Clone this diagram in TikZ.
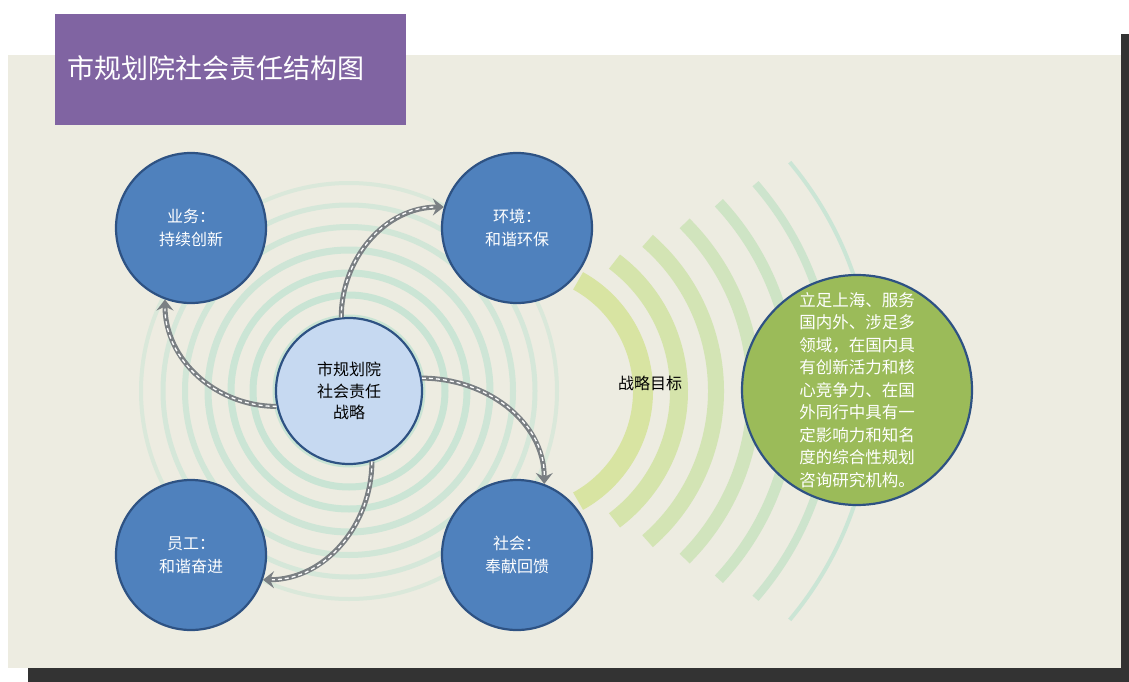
\documentclass[tikz,border=0pt]{standalone}
\usepackage{fontspec}
\newfontfamily\cjk{Noto Sans CJK SC}
\usepackage{xcolor}
\usetikzlibrary{arrows.meta,positioning,calc}
\definecolor{panelbg}{HTML}{EDECE1}
\definecolor{shadowgray}{HTML}{333333}
\definecolor{titlepurple}{HTML}{8064A2}
\definecolor{aimblue}{HTML}{4F81BD}
\definecolor{edgeblue}{HTML}{2E5283}
\definecolor{corelight}{HTML}{C6D9F1}
\definecolor{goalgreen}{HTML}{9BBB59}
\definecolor{ringteal}{HTML}{C3E3D2}
\definecolor{waveyellow}{HTML}{D3E294}
\definecolor{roadgray}{HTML}{7A7F83}
\tikzset{
  aim/.style={circle,draw=edgeblue,line width=2.2pt,fill=aimblue,minimum size=150pt,
    inner sep=0pt,text=white,align=center,font=\cjk\fontsize{16}{23}\selectfont},
  core/.style={aim,fill=corelight,text=black,minimum size=146pt,
    font=\cjk\fontsize{16}{21.5}\selectfont},
  goal/.style={aim,fill=goalgreen,minimum size=230pt,
    font=\cjk\fontsize{16.5}{22.5}\selectfont},
  road/.style={draw=roadgray,line width=5pt,-{Stealth[length=11pt,width=17pt,inset=4pt]},
    postaction={draw=white,line width=1.3pt,dash pattern=on 4pt off 3pt,-,shorten >=9pt}},
  every node/.style={font=\cjk}
}

\begin{document}
\begin{tikzpicture}[x=1pt,y=-1pt]
  \useasboundingbox (0,0) rectangle (1129,682);
  % panel and shadow
  \fill[shadowgray] (1121,34) rectangle (1129,682);
  \fill[shadowgray] (28,668) rectangle (1129,682);
  \fill[panelbg] (8,55) rectangle (1121,668);
  \fill[titlepurple] (55,14) rectangle (406,125);
  \node[anchor=west,text=white,font=\cjk\fontsize{27}{30}\selectfont] (title) at (64,68) {市规划院社会责任结构图};
  % rings round the strategy
  \foreach \r/\w/\p in {73/7/85,96/7/85,118/7/80,141/7/74,164/6/66,186/5/56,208/4/45}
    \draw[draw=ringteal!\p!panelbg,line width=\w pt] (349,391) circle[radius=\r];
  % waves toward the goal
  \foreach \r/\w/\a/\p in {126/20/61/0,162/18/53/18,199/16/49/36,237/14/45/54,276/11/43/70,316/8/41/85,356/4/40/100}
    \draw[draw=ringteal!\p!waveyellow!82!panelbg,line width=\w pt]
      ($(517,391)+(-\a:\r)$) arc[start angle=-\a,end angle=\a,radius=\r];
  \node[font=\cjk\fontsize{16}{20}\selectfont] (aimlabel) at (650,383) {战略目标};
  % circles
  \node[aim] (biz) at (191,228) {业务：\\持续创新};
  \node[aim] (env) at (517,228) {环境：\\和谐环保};
  \node[aim] (staff) at (191,555) {员工：\\和谐奋进};
  \node[aim] (soc) at (517,555) {社会：\\奉献回馈};
  \node[core] (ctr) at (349,391) {市规划院\\社会责任\\战略};
  \node[goal] (goal) at (857,390) {立足上海、服务\\国内外、涉足多\\领域，在国内具\\有创新活力和核\\心竞争力、在国\\外同行中具有一\\定影响力和知名\\度的综合性规划\\咨询研究机构。};
  % roads
  \draw[road] (ctr.192) to[out=180,in=-90] (biz.-110);
  \draw[road] (ctr.96) to[out=90,in=180] (env.164);
  \draw[road] (ctr.10) to[out=0,in=90] (soc.69);
  \draw[road] (ctr.-72) to[out=-90,in=0] (staff.-19);
\end{tikzpicture}
\end{document}
